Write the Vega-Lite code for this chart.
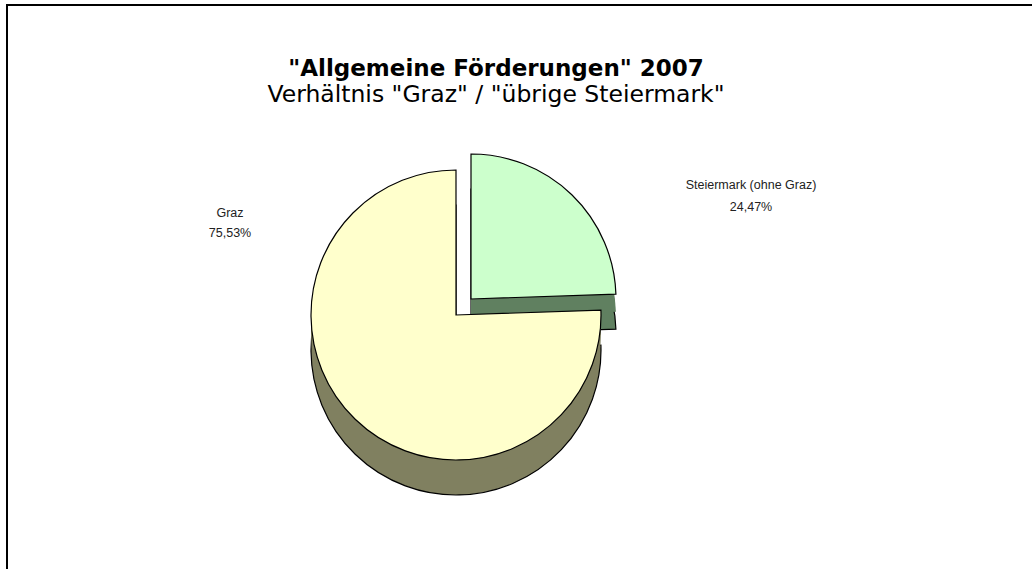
{
  "$schema": "https://vega.github.io/schema/vega-lite/v6.json",
  "width": 1100,
  "height": 620,
  "autosize": {"type": "none"},
  "padding": {"left": 7, "top": 5, "right": 0, "bottom": 0},
  "background": "white",
  "view": {"stroke": "black", "strokeWidth": 2, "fill": "white"},
  "title": {
    "text": "\"Allgemeine Förderungen\" 2007",
    "subtitle": "Verhältnis \"Graz\" / \"übrige Steiermark\"",
    "font": "DejaVu Sans",
    "fontSize": 23,
    "fontWeight": "bold",
    "color": "black",
    "subtitleFont": "DejaVu Sans",
    "subtitleFontSize": 23.5,
    "subtitleColor": "black",
    "subtitlePadding": 2,
    "anchor": "middle",
    "offset": 0,
    "dx": -61,
    "dy": 101
  },
  "data": {"values": [
    {"region": "Graz", "share": 75.53},
    {"region": "Steiermark (ohne Graz)", "share": 24.47}
  ]},
  "transform": [
    {"calculate": "datum.region + '\\n' + replace(format(datum.share, '.2f'), '.', ',') + '%'", "as": "label"}
  ],
  "layer": [
    {
      "mark": {"type": "arc", "radius": 145, "xOffset": -86, "yOffset": 19, "fill": "#608060", "stroke": "black", "strokeWidth": 1.2},
      "encoding": {
        "theta": {"field": "share", "type": "quantitative", "stack": true},
        "detail": {"field": "region"},
        "order": {"field": "region", "sort": "descending"},
        "opacity": {"condition": {"test": "datum.region !== 'Graz'", "value": 1}, "value": 0}
      }
    },
    {
      "mark": {"type": "arc", "radius": 145, "xOffset": -86, "yOffset": 1.5, "fill": "#608060", "strokeWidth": 0},
      "encoding": {
        "theta": {"field": "share", "type": "quantitative", "stack": true},
        "detail": {"field": "region"},
        "order": {"field": "region", "sort": "descending"},
        "opacity": {"condition": {"test": "datum.region !== 'Graz'", "value": 1}, "value": 0}
      }
    },
    {
      "mark": {"type": "arc", "radius": 145, "xOffset": -86, "yOffset": -16, "fill": "#CCFFCC", "stroke": "black", "strokeWidth": 1.2},
      "encoding": {
        "theta": {"field": "share", "type": "quantitative", "stack": true},
        "detail": {"field": "region"},
        "order": {"field": "region", "sort": "descending"},
        "opacity": {"condition": {"test": "datum.region !== 'Graz'", "value": 1}, "value": 0}
      }
    },
    {
      "mark": {"type": "arc", "radius": 145, "xOffset": -101, "yOffset": 35, "fill": "#808060", "stroke": "black", "strokeWidth": 1.2},
      "encoding": {
        "theta": {"field": "share", "type": "quantitative", "stack": true},
        "detail": {"field": "region"},
        "order": {"field": "region", "sort": "descending"},
        "opacity": {"condition": {"test": "datum.region === 'Graz'", "value": 1}, "value": 0}
      }
    },
    {
      "mark": {"type": "arc", "radius": 145, "xOffset": -101, "yOffset": 17.5, "fill": "#808060", "strokeWidth": 0},
      "encoding": {
        "theta": {"field": "share", "type": "quantitative", "stack": true},
        "detail": {"field": "region"},
        "order": {"field": "region", "sort": "descending"},
        "opacity": {"condition": {"test": "datum.region === 'Graz'", "value": 1}, "value": 0}
      }
    },
    {
      "mark": {"type": "arc", "radius": 145, "xOffset": -101, "yOffset": 0, "fill": "#FFFFCC", "stroke": "black", "strokeWidth": 1.2},
      "encoding": {
        "theta": {"field": "share", "type": "quantitative", "stack": true},
        "detail": {"field": "region"},
        "order": {"field": "region", "sort": "descending"},
        "opacity": {"condition": {"test": "datum.region === 'Graz'", "value": 1}, "value": 0}
      }
    },
    {
      "transform": [{"filter": "datum.region !== 'Graz'"}],
      "mark": {"type": "text", "font": "Liberation Sans", "fontSize": 12.5, "color": "#222222", "align": "center", "baseline": "alphabetic", "lineBreak": "\n", "lineHeight": 22, "dx": 194, "dy": -126},
      "encoding": {"text": {"field": "label"}}
    },
    {
      "transform": [{"filter": "datum.region === 'Graz'"}],
      "mark": {"type": "text", "font": "Liberation Sans", "fontSize": 12.5, "color": "#222222", "align": "center", "baseline": "alphabetic", "lineBreak": "\n", "lineHeight": 20, "dx": -327, "dy": -98},
      "encoding": {"text": {"field": "label"}}
    }
  ]
}
